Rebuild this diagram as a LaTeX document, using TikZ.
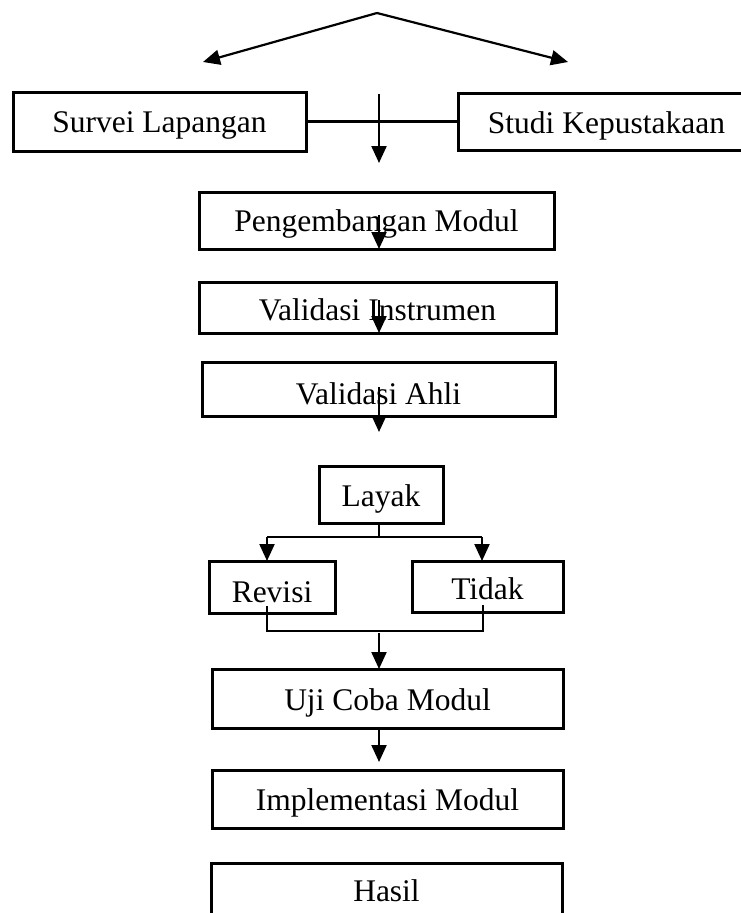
\documentclass[tikz,border=0pt]{standalone}
\usepackage{fontspec}
\setmainfont{Liberation Serif}
\usetikzlibrary{arrows.meta}
\begin{document}
\begin{tikzpicture}[x=1pt,y=-1pt,
  box/.style={draw=black,line width=3pt,rectangle,inner sep=0pt,outer sep=0pt,
    font=\fontsize{31.5}{36}\selectfont,text height=31pt,text depth=7pt},
  arr/.style={line width=2.2pt,-{Triangle[length=17pt,width=15pt]}},
  thin/.style={line width=1.3pt}]
\useasboundingbox (0,0) rectangle (741,913);
\clip (0,0) rectangle (741,913);
% boxes
\node[box,minimum width=293pt,minimum height=59pt,text height=29.4pt] (sl) at (159.5,121.5) {Survei Lapangan};
\node[box,minimum width=297pt,minimum height=57pt,text height=30.6pt] (sk) at (606.5,121.5) {Studi Kepustakaan};
\node[box,minimum width=355pt,minimum height=57pt,text height=29.4pt] (pm) at (376.5,220.5) {Pengembangan Modul};
\node[box,minimum width=357pt,minimum height=51pt,text height=32pt] (vi) at (377.5,307.5) {Validasi Instrumen};
\node[box,minimum width=353pt,minimum height=54pt,text height=37pt] (va) at (378.5,389) {Validasi Ahli};
\node[box,minimum width=124pt,minimum height=57pt] (ly) at (381,494.5) {Layak};
\node[box,minimum width=126pt,minimum height=52pt,text height=37pt] (rv) at (272,587) {Revisi};
\node[box,minimum width=151pt,minimum height=51pt,text height=33pt] (td) at (487.5,586.5) {Tidak};
\node[box,minimum width=351pt,minimum height=59pt] (uc) at (387.5,698.5) {Uji Coba Modul};
\node[box,minimum width=351pt,minimum height=58pt,text height=29pt] (im) at (387.5,799) {Implementasi Modul};
\node[box,minimum width=351pt,minimum height=58pt,text height=26.4pt] (hs) at (386.5,892) {Hasil};
% top arrows
\coordinate (apex) at (377,13);
\coordinate (tl) at (203,62);
\coordinate (tr) at (568,62);
\draw[arr] (apex) -- (tl);
\draw[arr] (apex) -- (tr);
% link between top boxes and down arrow
\draw[line width=2.2pt] (sl.east) -- (sk.west);
\coordinate (d0) at (379,94);
\coordinate (d1) at (379,163);
\draw[arr] (d0) -- (d1);
% arrows inside boxes
\coordinate (p0) at (379,215);
\draw[arr] (p0) -- (pm.south -| p0);
\coordinate (v0) at (379,300);
\draw[arr] (v0) -- (vi.south -| v0);
\coordinate (a0) at (379,387);
\coordinate (a1) at (379,432);
\draw[arr] (a0) -- (a1);
% Layak split
\coordinate (j) at (379,537);
\coordinate (jl) at (267,537);
\coordinate (jr) at (482,537);
\draw[thin] (ly.south -| j) -- (j);
\draw[thin] (jl) -- (jr);
\draw[arr] (jl) -- (rv.north -| jl);
\draw[arr] (jr) -- (td.north -| jr);
% merge
\coordinate (r0) at (267,606);
\coordinate (r1) at (267,631);
\coordinate (t0) at (483,605);
\coordinate (t1) at (483,631);
\draw[thin] (r0) -- (r1) -- (t1) -- (t0);
\coordinate (m0) at (379,633);
\draw[arr] (m0) -- (uc.north -| m0);
% uji coba to implementasi
\coordinate (u0) at (379,728);
\coordinate (u1) at (379,762);
\draw[arr] (u0) -- (u1);
\end{tikzpicture}
\end{document}
